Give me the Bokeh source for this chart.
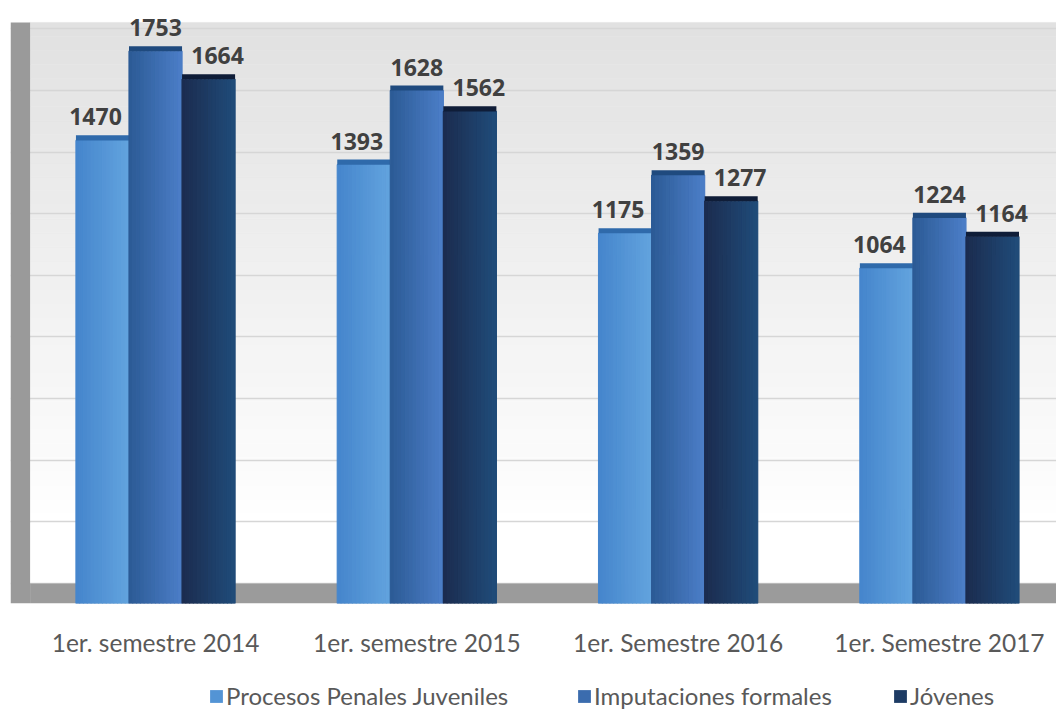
import numpy as np
from bokeh.plotting import figure
from bokeh.layouts import column
from bokeh.models import (Range1d, FixedTicker, Grid, BoxAnnotation, Legend,
                          LegendItem, ColumnDataSource)
from bokeh.core.properties import value
from bokeh.embed import file_html
from bokeh.resources import INLINE

# ---------------- data ----------------
categories = ["1er. semestre 2014", "1er. semestre 2015",
              "1er. Semestre 2016", "1er. Semestre 2017"]
series_names = ["Procesos Penales Juveniles", "Imputaciones formales", "Jóvenes"]
procesos = [1470, 1393, 1175, 1064]
imputaciones = [1753, 1628, 1359, 1224]
jovenes = [1664, 1562, 1277, 1164]
grid_ticks = [0, 200, 400, 600, 800, 1000, 1200, 1400, 1600, 1800]

# ---------------- style ----------------
left_cols = [(0x45, 0x85, 0xcc), (0x2b, 0x5a, 0x94), (0x1b, 0x2b, 0x4e)]
right_cols = [(0x62, 0xa3, 0xde), (0x4c, 0x7e, 0xc8), (0x20, 0x4c, 0x7a)]
cap_cols = ["#2f6aab", "#1f4a7e", "#0f1d38"]
label_dx = [-7, 0, 9]
BW = 0.203
NSLICE = 14
CAP = 16
FONT = "Lato"
W = 1056
X0, X1 = -0.555, 3.448
WALL_TOP = 1821

p = figure(width=W, height=663, x_range=Range1d(X0, X1),
           y_range=Range1d(0, 1914), output_backend="svg",
           toolbar_location=None, y_axis_location=None,
           min_border_left=10, min_border_right=0, min_border_top=0,
           min_border_bottom=60)
p.extra_y_ranges = {"wall": Range1d(-65, 1892)}
p.outline_line_color = None
p.background_fill_color = "white"
p.border_fill_color = "white"
p.xgrid.visible = False
p.ygrid.visible = False

# back wall gradient (style only)
nb = 40
edges = np.linspace(0, WALL_TOP, nb + 1)
cols = []
for i in range(nb):
    t = (edges[i] + edges[i + 1]) / 2 / WALL_TOP
    g = int(round(255 - 30 * max(0.0, t - 0.1) / 0.9))
    cols.append("#%02x%02x%02x" % (g, g, g))
p.quad(left=-0.48, right=X1, bottom=edges[:-1], top=edges[1:],
       fill_color=cols, line_color=cols, line_width=0.5,
       y_range_name="wall", level="underlay")

grid = Grid(dimension=1, ticker=FixedTicker(ticks=grid_ticks),
            y_range_name="wall", grid_line_color="#d6d6d6",
            grid_line_width=1.5)
p.add_layout(grid)

# floor and left wall
p.add_layout(BoxAnnotation(top=0, y_range_name="wall", left=-0.48,
                           fill_color="#9b9b9b", fill_alpha=1,
                           line_color=None, level="underlay"))
p.add_layout(BoxAnnotation(right=-0.48, top=WALL_TOP, y_range_name="wall",
                           fill_color="#9a9a9a", fill_alpha=1,
                           line_color=None, level="underlay"))
gy = np.array(grid_ticks[1:], dtype=float)
p.segment(x0=X0 + 0.005, y0=gy - 45, x1=-0.48, y1=gy, line_color="#e8e8e8",
          line_width=1.5, y_range_name="wall", level="underlay")

# bars
vals_all = [procesos, imputaciones, jovenes]
legend_colors = []
for s, vals in enumerate(vals_all):
    xs, tops, colors = [], [], []
    for g, v in enumerate(vals):
        cx = g + (s - 1) * BW
        for k in range(NSLICE):
            t = (k + 0.5) / NSLICE
            c = tuple(int(round(left_cols[s][j] + (right_cols[s][j] - left_cols[s][j]) * t)) for j in range(3))
            xs.append(cx - BW / 2 + t * BW)
            tops.append(v)
            colors.append("#%02x%02x%02x" % c)
    src = ColumnDataSource(dict(x=xs, top=tops, color=colors))
    p.vbar(x="x", top="top", bottom=0, width=BW / NSLICE,
           fill_color="color", line_color="color", line_width=1.2, source=src)
    centers = [g + (s - 1) * BW for g in range(len(vals))]
    p.vbar(x=centers, bottom=vals, top=[v + CAP for v in vals], width=BW,
           fill_color=cap_cols[s], line_color=None)
    p.text(x=centers, y=[v + CAP for v in vals], text=[str(v) for v in vals],
           text_font=value("Open Sans"), text_font_style="bold",
           text_font_size="23px", text_color="#404040", text_align="center",
           text_baseline="bottom", y_offset=-10, x_offset=label_dx[s])
    legend_colors.append("#%02x%02x%02x" % tuple((left_cols[s][j] + right_cols[s][j]) // 2 for j in range(3)))

# x axis
xa = p.xaxis[0]
xa.ticker = FixedTicker(ticks=list(range(len(categories))))
xa.major_label_overrides = {i: c for i, c in enumerate(categories)}
xa.axis_line_color = None
xa.major_tick_line_color = None
xa.minor_tick_line_color = None
xa.major_tick_out = 0
xa.major_tick_in = 0
xa.major_label_standoff = 24
xa.major_label_text_font = FONT
xa.major_label_text_font_size = "24.5px"
xa.major_label_text_color = "#595959"

# legend strip
p2 = figure(width=W, height=50, x_range=Range1d(0, 1), y_range=Range1d(0, 1),
            output_backend="svg", toolbar_location=None,
            x_axis_location=None, y_axis_location=None, min_border=0)
p2.outline_line_color = None
p2.grid.visible = False
leg_x = [198, 566, 882]
for s in range(3):
    r = p2.vbar(x=[5], bottom=[4], top=[5], width=0.1,
                fill_color=legend_colors[s], line_color=None)
    lg = Legend(items=[LegendItem(label=series_names[s], renderers=[r])],
                location=(leg_x[s], 3), orientation="horizontal",
                glyph_width=16, glyph_height=16, label_standoff=2,
                padding=0, margin=0, border_line_color=None,
                background_fill_alpha=0, label_text_font=FONT,
                label_text_font_size="24px", label_text_color="#595959")
    p2.add_layout(lg)

layout = column(p, p2, spacing=0)
open("out.html", "w").write(file_html(layout, INLINE))
